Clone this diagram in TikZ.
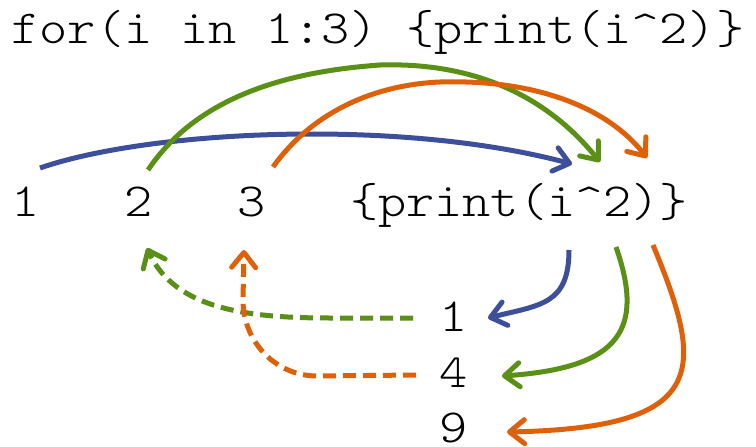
\documentclass[tikz,border=0pt]{standalone}
\usepackage{fontspec}
\usepackage{graphicx}
\usetikzlibrary{arrows.meta}
\definecolor{cblue}{HTML}{3D4F9B}
\definecolor{cgreen}{HTML}{5A9016}
\definecolor{corange}{HTML}{DE6109}
\newcommand{\codetxt}[1]{\scalebox{1.13}[1]{#1}}
\begin{document}
\begin{tikzpicture}[x=1pt,y=-1pt,
  txt/.style={font=\ttfamily\fontseries{l}\fontsize{47.5}{47.5}\selectfont, inner sep=0pt, anchor=base west, text=black},
  conn/.style={line width=5pt, -{Straight Barb[length=15pt,width=24pt,line cap=round,line join=round]}},
  dsh/.style={conn, dash pattern=on 13pt off 7pt}]
\useasboundingbox (0,0) rectangle (756,447);
% texts
\node[txt] (top)  at (11.4,43) {\codetxt{for(i in 1:3) \{print(i\textasciicircum2)\}}};
\node[txt] (n1)   at (11.4,216) {\codetxt{1}};
\node[txt] (n2)   at (124.2,216) {\codetxt{2}};
\node[txt] (n3)   at (237,216) {\codetxt{3}};
\node[txt] (body) at (349.8,216) {\codetxt{\{print(i\textasciicircum2)\}}};
\node[txt] (r1)   at (439,331) {\codetxt{1}};
\node[txt] (r4)   at (439,387) {\codetxt{4}};
\node[txt] (r9)   at (439,442) {\codetxt{9}};
% connector end points
\coordinate (bs) at (40,168);   \coordinate (be) at (572,164);
\coordinate (gs) at (148,170);  \coordinate (ge) at (600,162);
\coordinate (os) at (273,167);  \coordinate (oe) at (647,158);
\coordinate (lbs) at (569,250); \coordinate (lbe) at (488,318);
\coordinate (lgs) at (616,247); \coordinate (lge) at (502,376);
\coordinate (los) at (653,245); \coordinate (loe) at (507,432);
\coordinate (dgs) at (413,318); \coordinate (dge) at (147,248);
\coordinate (dos) at (416,375); \coordinate (doe) at (244,250);
% top arcs
\draw[conn,cblue] (bs) .. controls (150,130) and (400,118) .. (be);
\draw[conn,cgreen] (gs) .. controls (195,100) and (280,72) .. (380,65) .. controls (480,62) and (550,100) .. (ge);
\draw[conn,corange] (os) .. controls (310,115) and (370,85) .. (440,82) .. controls (540,79) and (610,110) .. (oe);
% lower arcs
\draw[conn,cblue] (lbs) .. controls (569,305) and (540,305) .. (lbe);
\draw[conn,cgreen] (lgs) .. controls (645,330) and (620,368) .. (lge);
\draw[conn,corange] (los) .. controls (705,370) and (710,428) .. (loe);
% dashed back arcs
\draw[dsh,cgreen] (dgs) -- (330,318) .. controls (250,318) and (175,310) .. (dge);
\draw[dsh,corange] (dos) -- (317,376) .. controls (276,376) and (243,342) .. (243,300) -- (doe);
\end{tikzpicture}
\end{document}
